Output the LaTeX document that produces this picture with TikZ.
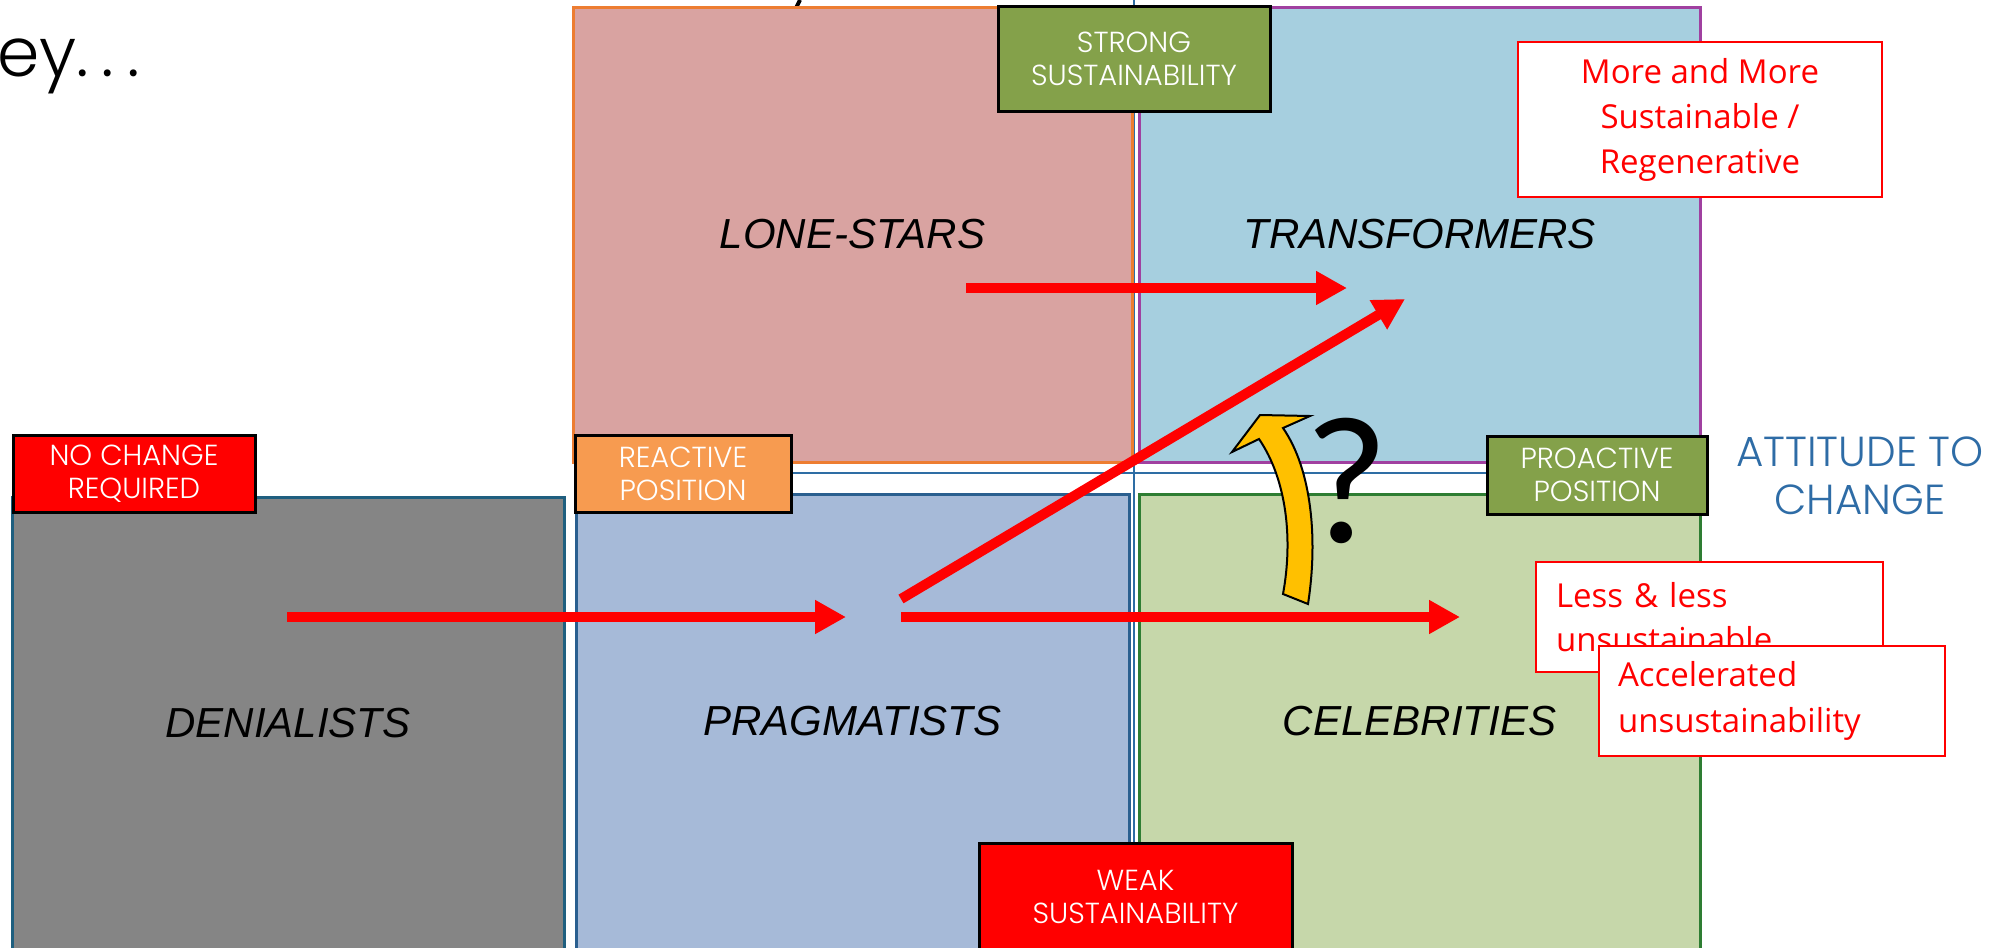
\documentclass[tikz,border=0pt]{standalone}
\usepackage{fontspec}
\setmainfont{Liberation Sans}
\newfontfamily\labfont{Poppins Light}
\newfontfamily\redfont{Open Sans}
\newfontfamily\qfont{Carlito}
\usetikzlibrary{arrows.meta}
\definecolor{pinkq}{RGB}{217,163,161}
\definecolor{orangeb}{RGB}{237,125,49}
\definecolor{blueq}{RGB}{166,207,223}
\definecolor{purpleb}{RGB}{160,64,160}
\definecolor{grayq}{RGB}{133,133,133}
\definecolor{grayb}{RGB}{31,95,127}
\definecolor{pragq}{RGB}{166,186,216}
\definecolor{pragb}{RGB}{42,95,143}
\definecolor{greenq}{RGB}{198,215,170}
\definecolor{greenb}{RGB}{46,125,50}
\definecolor{axisc}{RGB}{46,109,164}
\definecolor{olivec}{RGB}{132,161,74}
\definecolor{orangel}{RGB}{247,155,80}
\definecolor{yellc}{RGB}{255,192,0}
\definecolor{attc}{RGB}{46,108,166}
\begin{document}
\begin{tikzpicture}[x=1pt,y=-1pt,
  quad/.style={rectangle, line width=3pt, inner sep=0pt, text=black,
    font=\itshape\fontsize{42}{50}\selectfont},
  labbox/.style={rectangle, draw=black, line width=3pt, inner sep=0pt, text=white,
    align=center, font=\labfont\fontsize{29}{33}\selectfont},
  redbox/.style={rectangle, draw=red, fill=white, line width=2pt, text=red,
    font=\redfont\fontsize{33}{45}\selectfont},
  redarrow/.style={draw=red, line width=10pt, -{Triangle[length=31pt,width=32pt]}},
  axisline/.style={draw=axisc, line width=2.5pt}]
\useasboundingbox (0,0) rectangle (1998,948);
\clip (0,0) rectangle (1998,948);
% title fragments
\node[anchor=base west, inner sep=0pt, font=\labfont\fontsize{68}{74}\selectfont] (title) at (-3,76) {ey.\kern13pt.\kern13pt.};
\coordinate (ta) at (800,0);
\coordinate (tb) at (792,16);
\draw[line width=4pt] (ta) -- (tb);
% axes
\coordinate (axl) at (575,473);
\coordinate (axr) at (1700,473);
\coordinate (axt) at (1134,0);
\coordinate (axb) at (1134,948);
\draw[axisline] (axl) -- (axr);
\draw[axisline] (axt) -- (axb);
% quadrants
\node[quad, fill=pinkq, draw=orangeb, minimum width=559pt, minimum height=455pt] (lone) at (852.5,234.5) {LONE-STARS};
\node[quad, fill=blueq, draw=purpleb, minimum width=561pt, minimum height=455pt] (trans) at (1419.5,234.5) {TRANSFORMERS};
\node[quad, fill=grayq, draw=grayb, minimum width=552pt, minimum height=452pt] (den) at (288,723) {DENIALISTS};
\node[quad, fill=pragq, draw=pragb, minimum width=553pt, minimum height=455pt] (prag) at (852.5,721.5) {PRAGMATISTS};
\node[quad, fill=greenq, draw=greenb, minimum width=561pt, minimum height=455pt] (celeb) at (1419.5,721.5) {CELEBRITIES};
% label boxes
\node[labbox, fill=olivec, minimum width=272pt, minimum height=105pt] (strong) at (1134,58.5) {STRONG\\SUSTAINABILITY};
\node[labbox, fill=red, minimum width=242pt, minimum height=77pt] (nochange) at (134,473.5) {NO CHANGE\\REQUIRED};
\node[labbox, fill=orangel, minimum width=216pt, minimum height=77pt] (reactive) at (683,473.5) {REACTIVE\\POSITION};
\node[labbox, fill=olivec, minimum width=220pt, minimum height=78pt] (proactive) at (1597,475) {PROACTIVE\\POSITION};
\node[labbox, fill=red, minimum width=313pt, minimum height=108pt] (weak) at (1135.5,897) {WEAK\\SUSTAINABILITY};
\node[align=center, text=attc, inner sep=0pt, font=\labfont\fontsize{42}{48}\selectfont] (attitude) at (1860,476) {ATTITUDE TO\\CHANGE};
% red arrows
\coordinate (a1s) at (966,288);
\coordinate (a1e) at (1347,288);
\coordinate (a2s) at (287,617);
\coordinate (a2e) at (846,617);
\coordinate (a3s) at (901,617);
\coordinate (a3e) at (1460,617);
\coordinate (a4s) at (901,599);
\coordinate (a4e) at (1405,299);
\draw[redarrow] (a1s) -- (a1e);
\draw[redarrow] (a2s) -- (a2e);
\draw[redarrow] (a3s) -- (a3e);
\draw[redarrow] (a4s) -- (a4e);
% yellow curved arrow
\draw[fill=yellc, draw=black, line width=2pt, line join=miter]
  (1283,594) .. controls (1293,540) and (1287,480) .. (1259,439)
  -- (1232,452) -- (1260,415) -- (1310,416) -- (1283,428)
  .. controls (1312,470) and (1318,540) .. (1308,604) -- cycle;
\node[anchor=base, inner sep=0pt, font=\qfont\fontsize{182}{200}\selectfont] (q) at (1347,542) {?};
% red text boxes
\node[redbox, align=center, minimum width=364pt, minimum height=155pt, inner sep=0pt] (more) at (1700,119.5) {More and More\\Sustainable /\\Regenerative};
\node[redbox, align=left, text width=307pt, minimum width=347pt, minimum height=110pt, inner xsep=20pt, inner ysep=0pt, font=\redfont\fontsize{33}{44}\selectfont] (less) at (1709.5,617) {Less \& less\\unsustainable};
\node[redbox, align=left, text width=308pt, minimum width=346pt, minimum height=110pt, inner xsep=19pt, inner ysep=0pt, font=\redfont\fontsize{33}{46}\selectfont] (accel) at (1772,701) {Accelerated\\unsustainability};
\end{tikzpicture}
\end{document}
